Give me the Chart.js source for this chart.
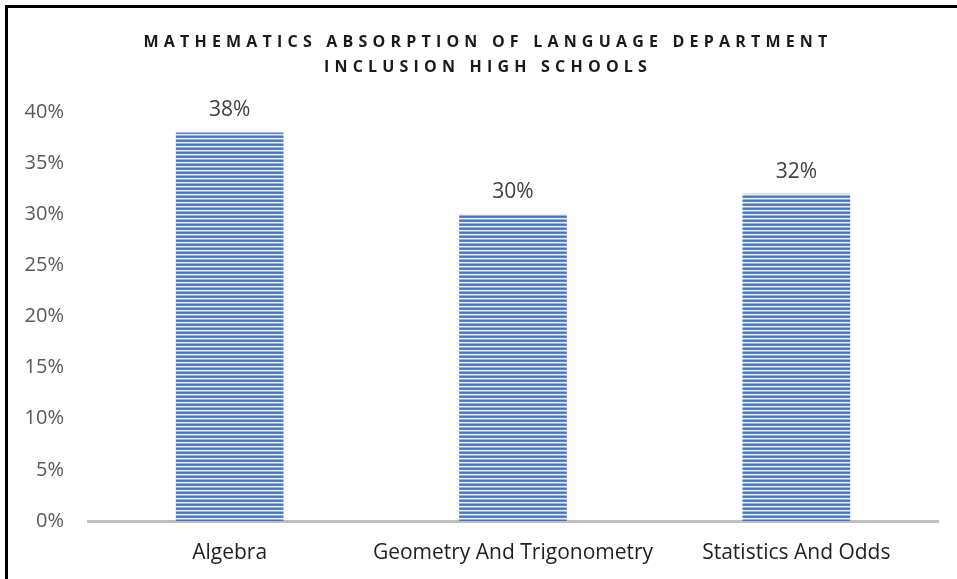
<!DOCTYPE html>
<html>
<head>
<meta charset="utf-8">
<script src="https://cdn.jsdelivr.net/npm/chart.js@4"></script>
<style>
  html, body { margin: 0; padding: 0; background: #fff; }
  #wrap { width: 957px; height: 579px; position: relative; }
</style>
</head>
<body>
<div id="wrap"><canvas id="mathChart" width="957" height="579"></canvas></div>
<script>
// --- data ---
const categories = ['Algebra', 'Geometry And Trigonometry', 'Statistics And Odds'];
const absorption = [38, 30, 32];
const titleLines = ['MATHEMATICS ABSORPTION OF LANGUAGE DEPARTMENT', 'INCLUSION HIGH SCHOOLS'];

// horizontal stripe fill like the office "narrow horizontal" pattern
function makeStripes() {
    const c = document.createElement('canvas');
    c.width = 4; c.height = 4;
    const g = c.getContext('2d');
    const rows = ['#4472C4', '#5E86CD', '#E6ECF7', '#9AB2DF'];
    rows.forEach((col, i) => { g.fillStyle = col; g.fillRect(0, i, 4, 1); });
    return g.createPattern(c, 'repeat');
}

// title with spaced letters + black frame on left/top
const decorPlugin = {
    id: 'decor',
    afterDraw(chart) {
        const ctx = chart.ctx;
        ctx.save();
        ctx.fillStyle = '#000';
        ctx.fillRect(5, 5, 952, 3);
        ctx.fillRect(5, 5, 3, 574);

        ctx.fillStyle = '#1a1a1a';
        ctx.font = 'bold 16px "Open Sans"';
        ctx.textAlign = 'center';
        ctx.textBaseline = 'middle';
        ctx.letterSpacing = '5.2px';
        ctx.fillText(titleLines[0], 488, 42);
        ctx.fillText(titleLines[1], 488, 67);
        ctx.restore();
    }
};

// value labels over bars
const valueLabels = {
    id: 'valueLabels',
    afterDatasetsDraw(chart) {
        const ctx = chart.ctx;
        const meta = chart.getDatasetMeta(0);
        ctx.save();
        ctx.fillStyle = '#404040';
        ctx.font = '21px "Open Sans"';
        ctx.textAlign = 'center';
        ctx.textBaseline = 'middle';
        meta.data.forEach((bar, i) => {
            ctx.fillText(absorption[i] + '%', bar.x, bar.y - 22);
        });
        ctx.restore();
    }
};

const ctx = document.getElementById('mathChart').getContext('2d');
new Chart(ctx, {
    type: 'bar',
    data: {
        labels: categories,
        datasets: [{
            data: absorption,
            backgroundColor: makeStripes(),
            borderWidth: 0,
            barPercentage: 0.38,
            categoryPercentage: 1
        }]
    },
    options: {
        responsive: false,
        animation: false,
        layout: { padding: { top: 112, right: 19, bottom: 0, left: 0 } },
        plugins: {
            legend: { display: false },
            title: { display: false },
            tooltip: { enabled: false }
        },
        scales: {
            y: {
                min: 0,
                max: 40,
                ticks: {
                    stepSize: 5,
                    padding: 16,
                    color: '#595959',
                    font: { family: 'Open Sans', size: 20 },
                    callback: v => v + '%'
                },
                grid: { display: false },
                border: { display: false },
                afterFit: s => { s.width = 88; }
            },
            x: {
                ticks: {
                    padding: 11,
                    maxRotation: 0,
                    minRotation: 0,
                    autoSkip: false,
                    color: '#1f1f1f',
                    font: { family: 'Open Sans', size: 21 }
                },
                grid: { display: false },
                border: { display: true, color: '#BFBFBF', width: 3 },
                afterFit: s => { s.height = 58; }
            }
        }
    },
    plugins: [decorPlugin, valueLabels]
});
</script>
</body>
</html>
